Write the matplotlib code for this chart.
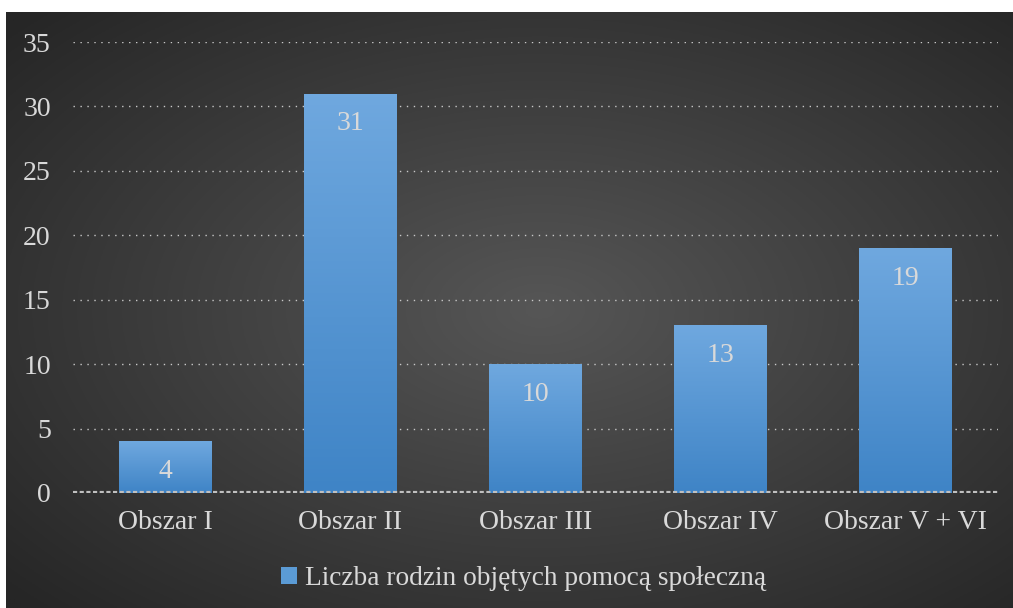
import numpy as np
import matplotlib.pyplot as plt

categories = ['Obszar I', 'Obszar II', 'Obszar III', 'Obszar IV', 'Obszar V + VI']
values = [4, 31, 10, 13, 19]
series_name = 'Liczba rodzin objętych pomocą społeczną'
yticks = [0, 5, 10, 15, 20, 25, 30, 35]

plt.rcParams['font.family'] = ['Liberation Serif', 'DejaVu Serif']
text_color = '#d9d9d9'

W, H = 1013, 608
fig = plt.figure(figsize=(W / 100, H / 100), dpi=100, facecolor='white')

# dark radial background panel
bg = fig.add_axes([6 / W, 0, 1 - 6 / W, 1 - 12 / H])
yy, xx = np.mgrid[0:1:300j, 0:1:500j]
r = np.sqrt(((xx - 0.53) / 0.75) ** 2 + ((yy - 0.5) / 0.75) ** 2)
r = np.clip(r / 0.95, 0, 1)
light, dark = 0x56 / 255, 0x26 / 255
shade = light + (dark - light) * r
bg.imshow(np.dstack([shade, shade, shade]), aspect='auto', extent=[0, 1, 0, 1])
bg.set_axis_off()

# plot area
ax = fig.add_axes([73 / W, (H - 493) / H, (998 - 73) / W, (493 - 42) / H])
ax.patch.set_alpha(0)
x = np.arange(len(categories))
bars = ax.bar(x, values, width=0.5, color='#5b9bd5', zorder=3)

# vertical gradient on each bar
grad = np.linspace(0, 1, 100).reshape(-1, 1)
top_c = np.array([0x6f, 0xa8, 0xdf]) / 255
bot_c = np.array([0x3f, 0x84, 0xc6]) / 255
for b in bars:
    x0, w, h = b.get_x(), b.get_width(), b.get_height()
    img = bot_c + (top_c - bot_c) * grad[..., None]
    im = ax.imshow(img, extent=[x0, x0 + w, 0, h], origin='lower',
                   aspect='auto', zorder=4)
    im.set_clip_path(b)

for xi, v in zip(x, values):
    ax.annotate(str(v), (xi, v), xytext=(0, -30), textcoords='offset pixels',
                ha='center', va='center', color=text_color, fontsize=20, zorder=5)

ax.set_xlim(-0.5, len(categories) - 0.5)
ax.set_ylim(0, 35)
ax.set_yticks(yticks)
ax.set_xticks(x)
ax.set_xticklabels(categories)
ax.tick_params(axis='both', length=0, colors=text_color, labelsize=20)
ax.tick_params(axis='y', pad=16)
ax.tick_params(axis='x', pad=12)
for s in ax.spines.values():
    s.set_visible(False)

for t in yticks[1:]:
    ax.axhline(t, color='#c8c8c8', lw=1, ls=(0, (1, 4)), zorder=1)
ax.axhline(0, color='#c0c0c0', lw=3, ls=(0, (1, 0.6)), zorder=6)

# legend
leg = ax.legend([bars[0]], [series_name], loc='center', bbox_to_anchor=(0.487, -0.19),
                frameon=False, fontsize=19.7, labelcolor=text_color,
                handlelength=0.6, handleheight=0.6, handletextpad=0.3)

fig.savefig('out.png', dpi=100, facecolor=fig.get_facecolor())
